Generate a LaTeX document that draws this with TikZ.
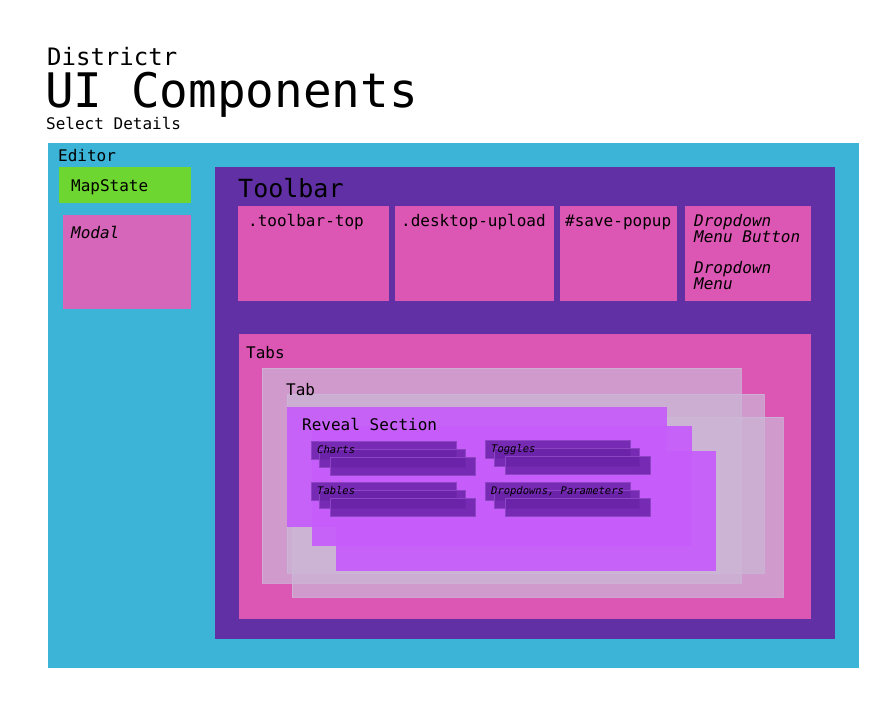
\documentclass[tikz,border=0pt]{standalone}
\usepackage{fontspec}
\setmainfont{DejaVu Sans Mono}
\definecolor{editorblue}{HTML}{3CB4D8}
\definecolor{mapgreen}{HTML}{6DD630}
\definecolor{modalpink}{HTML}{D566B9}
\definecolor{toolpurple}{HTML}{6030A4}
\definecolor{boxpink}{HTML}{DC56B4}
\definecolor{tablight}{HTML}{CCB7D7}
\definecolor{revealviolet}{HTML}{C65CFA}
\definecolor{chartpurple}{HTML}{6A22A8}
\definecolor{chartedge}{HTML}{8C44C4}
\tikzset{
  lbl/.style={anchor=base west, inner sep=0pt, text=black, font=\fontsize{16}{16}\selectfont},
  small/.style={anchor=base west, inner sep=0pt, text=black, font=\fontsize{10.5}{10.5}\selectfont\itshape},
  tabbox/.style={fill=tablight, fill opacity=0.7, draw=tablight, draw opacity=0.8, line width=0.6pt},
  revbox/.style={fill=revealviolet, fill opacity=0.92},
  chartbox/.style={fill=chartpurple, fill opacity=0.85, draw=chartedge, line width=0.6pt},
}
\begin{document}
\begin{tikzpicture}[x=1pt,y=-1pt]
\useasboundingbox (0,0) rectangle (888,716);
\fill[white] (0,0) rectangle (888,716);
% titles
\node[lbl, font=\fontsize{24}{24}\selectfont] (districtr) at (47,65) {Districtr};
\node[lbl, font=\fontsize{47.6}{47.6}\selectfont] (uicomp) at (45,107) {UI Components};
\node[lbl] (select) at (46,129) {Select Details};
% editor
\fill[editorblue] (48,143) rectangle (859,668);
\node[lbl] (editor) at (58,161) {Editor};
\fill[mapgreen] (59,167) rectangle (191,203);
\node[lbl] (mapstate) at (71,191) {MapState};
\fill[modalpink] (63,215) rectangle (191,309);
\node[lbl, font=\fontsize{16}{16}\selectfont\itshape] (modal) at (71,238) {Modal};
% toolbar
\fill[toolpurple] (215,167) rectangle (835,639);
\node[lbl, font=\fontsize{25}{25}\selectfont] (toolbar) at (238,197) {Toolbar};
\fill[boxpink] (238,206) rectangle (389,301);
\node[lbl] (ttop) at (248,226) {.toolbar-top};
\fill[boxpink] (395,206) rectangle (554,301);
\node[lbl] (dupload) at (401,226) {.desktop-upload};
\fill[boxpink] (560,206) rectangle (677,301);
\node[lbl] (save) at (565,226) {\#save-popup};
\fill[boxpink] (685,206) rectangle (811,301);
\node[lbl, font=\fontsize{16}{16}\selectfont\itshape, align=left] (ddbtn) at (694,242) {Dropdown\\Menu Button};
\node[lbl, font=\fontsize{16}{16}\selectfont\itshape, align=left] (ddmenu) at (694,289) {Dropdown\\Menu};
% tabs
\fill[boxpink] (239,334) rectangle (811,619);
\node[lbl] (tabs) at (246,358) {Tabs};
\path[tabbox] (262,368) rectangle (741,583);
\path[tabbox] (287,394) rectangle (764,573);
\path[tabbox] (292,417) rectangle (783,597);
\node[lbl] (tab) at (286,395) {Tab};
% reveal
\path[revbox] (287,407) rectangle (667,527);
\path[revbox] (312,426) rectangle (692,546);
\path[revbox] (336,451) rectangle (716,571);
\node[lbl] (reveal) at (302,430) {Reveal Section};
% chart stacks
\path[chartbox] (311,441) rectangle (456,459);
\path[chartbox] (319,449) rectangle (465,467);
\path[chartbox] (330,457) rectangle (475,475);
\node[small] (charts) at (317,453) {Charts};
\path[chartbox] (485,440) rectangle (630,458);
\path[chartbox] (494,448) rectangle (639,466);
\path[chartbox] (505,456) rectangle (650,474);
\node[small] (toggles) at (491,452) {Toggles};
\path[chartbox] (311,482) rectangle (456,500);
\path[chartbox] (319,490) rectangle (465,508);
\path[chartbox] (330,498) rectangle (475,516);
\node[small] (tables) at (317,494) {Tables};
\path[chartbox] (485,482) rectangle (630,500);
\path[chartbox] (494,490) rectangle (639,508);
\path[chartbox] (505,498) rectangle (650,516);
\node[small] (dropdowns) at (491,494) {Dropdowns, Parameters};
\end{tikzpicture}
\end{document}
